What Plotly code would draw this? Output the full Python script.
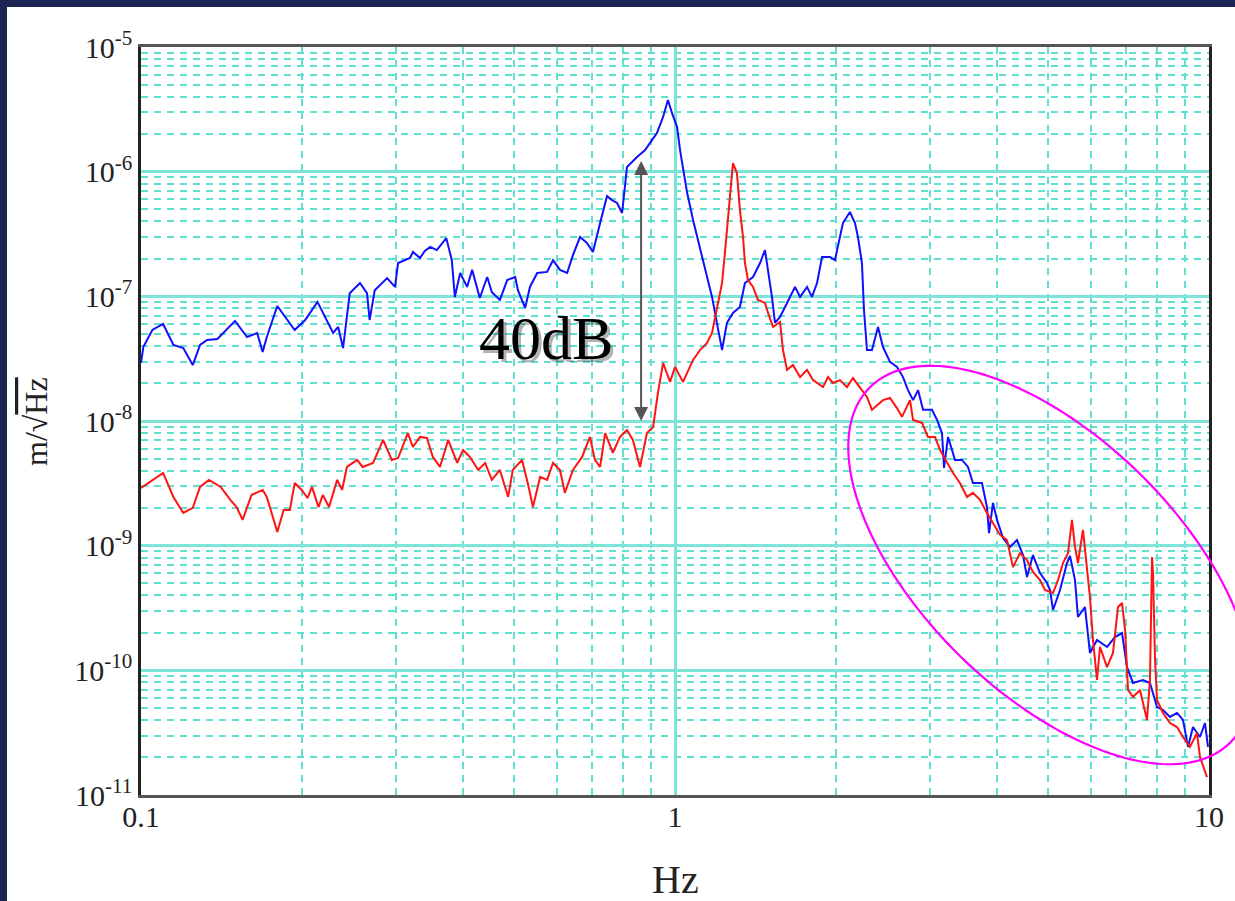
import math
import numpy as np
import plotly.graph_objects as go

# ---------------- data ----------------
blue_f = [0.100, 0.101, 0.105, 0.110, 0.115, 0.120, 0.125, 0.129, 0.133, 0.139,
          0.150, 0.158, 0.165, 0.169, 0.172, 0.180, 0.194, 0.203, 0.214, 0.229,
          0.234, 0.239, 0.246, 0.257, 0.265, 0.268, 0.274, 0.289, 0.299, 0.303,
          0.319, 0.323, 0.333, 0.340, 0.348, 0.358, 0.373, 0.382, 0.387, 0.396,
          0.408, 0.417, 0.431, 0.445, 0.454, 0.470, 0.485, 0.502, 0.508, 0.524,
          0.535, 0.552, 0.576, 0.591, 0.609, 0.628, 0.644, 0.664, 0.684, 0.702,
          0.724, 0.746, 0.762, 0.779, 0.796, 0.813, 0.849, 0.879, 0.898, 0.925,
          0.950, 0.970, 0.987, 1.009, 1.022, 1.053, 1.081, 1.128, 1.173, 1.198,
          1.225, 1.251, 1.284, 1.323, 1.352, 1.400, 1.443, 1.474, 1.494, 1.519,
          1.539, 1.573, 1.621, 1.678, 1.715, 1.767, 1.805, 1.845, 1.885, 1.951,
          1.993, 2.019, 2.063, 2.126, 2.173, 2.201, 2.239, 2.259, 2.288, 2.338,
          2.400, 2.452, 2.527, 2.604, 2.673, 2.731, 2.791, 2.852, 2.914, 3.029,
          3.095, 3.162, 3.190, 3.246, 3.345, 3.447, 3.537, 3.614, 3.757, 3.839,
          3.873, 3.940, 4.009, 4.114, 4.240, 4.370, 4.484, 4.562, 4.681, 4.825,
          4.973, 5.038, 5.104, 5.260, 5.421, 5.492, 5.611, 5.683, 5.858, 5.985,
          6.170, 6.442, 6.668, 6.873, 7.022, 7.205, 7.522, 7.753, 7.992, 8.202,
          8.453, 8.711, 8.939, 9.135, 9.333, 9.619, 9.829, 9.957]

blue_amp = [2.92e-8, 3.92e-8, 5.37e-8, 6.0e-8, 4.07e-8, 3.85e-8, 2.81e-8, 4.07e-8, 4.47e-8, 4.55e-8,
            6.35e-8, 4.72e-8, 5.08e-8, 3.58e-8, 4.72e-8, 8.37e-8, 5.37e-8, 6.46e-8, 9.02e-8, 5.08e-8,
            5.68e-8, 3.85e-8, 1.06e-7, 1.28e-7, 1.06e-7, 6.46e-8, 1.12e-7, 1.40e-7, 1.19e-7, 1.85e-7,
            2.03e-7, 2.27e-7, 2.03e-7, 2.31e-7, 2.49e-7, 2.35e-7, 2.93e-7, 1.95e-7, 9.89e-8, 1.54e-7,
            1.19e-7, 1.63e-7, 9.7e-8, 1.43e-7, 1.08e-7, 9.36e-8, 1.35e-7, 1.43e-7, 1.12e-7, 8.07e-8,
            1.19e-7, 1.54e-7, 1.57e-7, 1.95e-7, 1.63e-7, 1.54e-7, 2.14e-7, 2.99e-7, 2.68e-7, 2.27e-7,
            3.87e-7, 6.38e-7, 5.92e-7, 5.61e-7, 4.66e-7, 1.09e-6, 1.31e-6, 1.49e-6, 1.70e-6, 2.04e-6,
            2.75e-6, 3.76e-6, 2.96e-6, 2.28e-6, 1.49e-6, 6.87e-7, 4.09e-7, 1.95e-7, 9.89e-8, 6.12e-8,
            3.71e-8, 6.12e-8, 7.36e-8, 8.22e-8, 1.28e-7, 1.43e-7, 1.85e-7, 2.35e-7, 1.63e-7, 9.89e-8,
            6.12e-8, 6.83e-8, 8.85e-8, 1.19e-7, 9.89e-8, 1.19e-7, 9.89e-8, 1.28e-7, 2.07e-7, 2.07e-7,
            1.95e-7, 2.49e-7, 3.87e-7, 4.75e-7, 3.87e-7, 2.99e-7, 1.85e-7, 7.78e-8, 3.71e-8, 3.71e-8,
            5.68e-8, 3.92e-8, 2.98e-8, 2.71e-8, 2.25e-8, 1.77e-8, 1.47e-8, 1.77e-8, 1.23e-8, 1.23e-8,
            1.02e-8, 8.0e-9, 4.2e-9, 7.45e-9, 4.87e-9, 4.87e-9, 4.28e-9, 3.18e-9, 3.18e-9, 2.04e-9,
            1.26e-9, 2.20e-9, 1.61e-9, 1.15e-9, 9.76e-10, 1.11e-9, 8.4e-10, 5.61e-10, 8.4e-10, 6.03e-10,
            5.02e-10, 4.41e-10, 3.05e-10, 4.41e-10, 7.26e-10, 8.26e-10, 5.30e-10, 2.68e-10, 3.22e-10, 1.38e-10,
            1.75e-10, 1.54e-10, 1.85e-10, 1.99e-10, 1.06e-10, 7.92e-11, 8.37e-11, 7.92e-11, 5.08e-11, 4.81e-11,
            4.23e-11, 4.55e-11, 4.0e-11, 2.43e-11, 3.51e-11, 2.92e-11, 3.78e-11, 2.43e-11]

red_f = [0.100, 0.110, 0.115, 0.120, 0.125, 0.129, 0.134, 0.141, 0.147, 0.151,
         0.155, 0.161, 0.169, 0.172, 0.180, 0.185, 0.190, 0.194, 0.200, 0.205,
         0.209, 0.215, 0.219, 0.225, 0.233, 0.238, 0.243, 0.254, 0.260, 0.272,
         0.284, 0.295, 0.303, 0.316, 0.323, 0.333, 0.343, 0.352, 0.363, 0.376,
         0.391, 0.401, 0.413, 0.428, 0.441, 0.454, 0.470, 0.487, 0.497, 0.517,
         0.530, 0.542, 0.559, 0.576, 0.591, 0.609, 0.622, 0.644, 0.670, 0.693,
         0.708, 0.724, 0.740, 0.765, 0.789, 0.813, 0.834, 0.860, 0.886, 0.910,
         0.929, 0.950, 0.979, 1.000, 1.035, 1.081, 1.114, 1.148, 1.173, 1.198,
         1.225, 1.240, 1.257, 1.273, 1.284, 1.306, 1.323, 1.341, 1.352, 1.370,
         1.400, 1.430, 1.474, 1.494, 1.526, 1.573, 1.593, 1.621, 1.663, 1.715,
         1.767, 1.813, 1.893, 1.934, 1.976, 2.037, 2.099, 2.154, 2.220, 2.288,
         2.338, 2.389, 2.452, 2.527, 2.604, 2.661, 2.720, 2.755, 2.791, 2.901,
         2.977, 3.068, 3.135, 3.231, 3.316, 3.417, 3.522, 3.614, 3.725, 3.839,
         3.940, 4.062, 4.185, 4.295, 4.427, 4.562, 4.681, 4.825, 4.930, 5.104,
         5.215, 5.328, 5.445, 5.539, 5.611, 5.683, 5.808, 5.908, 5.985, 6.064,
         6.170, 6.250, 6.442, 6.610, 6.754, 6.873, 6.963, 7.053, 7.205, 7.427,
         7.654, 7.753, 7.822, 7.856, 7.924, 7.992, 8.202, 8.453, 8.711, 8.939,
         9.213, 9.495, 9.619, 9.914]

red_amp = [2.90e-9, 3.83e-9, 2.46e-9, 1.83e-9, 2.01e-9, 2.96e-9, 3.37e-9, 2.96e-9, 2.33e-9, 2.04e-9,
           1.61e-9, 2.55e-9, 2.80e-9, 2.46e-9, 1.29e-9, 1.93e-9, 1.93e-9, 3.18e-9, 2.80e-9, 2.41e-9,
           2.96e-9, 2.04e-9, 2.55e-9, 2.04e-9, 3.37e-9, 2.80e-9, 4.28e-9, 4.87e-9, 4.28e-9, 4.61e-9,
           7.05e-9, 4.87e-9, 5.05e-9, 8.0e-9, 6.19e-9, 7.45e-9, 7.31e-9, 5.15e-9, 4.28e-9, 7.05e-9,
           4.61e-9, 5.86e-9, 5.15e-9, 4.05e-9, 4.61e-9, 3.37e-9, 4.05e-9, 2.46e-9, 4.05e-9, 4.87e-9,
           3.18e-9, 2.04e-9, 3.56e-9, 3.37e-9, 4.61e-9, 4.05e-9, 2.65e-9, 4.05e-9, 5.15e-9, 7.45e-9,
           4.87e-9, 4.28e-9, 8.0e-9, 5.55e-9, 7.45e-9, 8.46e-9, 7.05e-9, 4.28e-9, 8.0e-9, 8.96e-9,
           1.68e-8, 2.92e-8, 2.06e-8, 2.71e-8, 2.06e-8, 3.09e-8, 3.71e-8, 4.23e-8, 5.08e-8, 8.22e-8,
           1.28e-7, 2.22e-7, 4.33e-7, 8.10e-7, 1.17e-6, 9.75e-7, 4.93e-7, 2.99e-7, 1.85e-7, 1.35e-7,
           1.19e-7, 9.36e-8, 8.85e-8, 7.36e-8, 5.68e-8, 6.23e-8, 3.71e-8, 2.57e-8, 2.81e-8, 2.25e-8,
           2.57e-8, 2.13e-8, 1.87e-8, 2.25e-8, 2.02e-8, 2.13e-8, 1.87e-8, 2.21e-8, 1.87e-8, 1.56e-8,
           1.23e-8, 1.34e-8, 1.47e-8, 1.53e-8, 1.27e-8, 1.08e-8, 1.30e-8, 1.47e-8, 1.02e-8, 9.65e-9,
           7.45e-9, 7.45e-9, 5.86e-9, 4.61e-9, 3.83e-9, 3.18e-9, 2.46e-9, 2.65e-9, 2.33e-9, 1.83e-9,
           1.52e-9, 1.22e-9, 1.11e-9, 6.73e-10, 8.72e-10, 7.67e-10, 6.15e-10, 5.30e-10, 4.41e-10, 4.17e-10,
           5.30e-10, 7.26e-10, 8.72e-10, 1.61e-9, 9.76e-10, 7.26e-10, 1.34e-9, 6.38e-10, 3.87e-10, 1.75e-10,
           8.37e-11, 1.54e-10, 1.06e-10, 1.38e-10, 3.22e-10, 3.47e-10, 2.11e-10, 6.96e-11, 6.12e-11, 6.96e-11,
           4.0e-11, 8.37e-11, 8.10e-10, 6.03e-10, 1.21e-10, 5.79e-11, 4.55e-11, 3.78e-11, 3.51e-11, 2.92e-11,
           2.43e-11, 3.14e-11, 2.02e-11, 1.39e-11]

x_tick_vals = [0.1, 1, 10]
x_tick_text = ["0.1", "1", "10"]
y_tick_vals = [1e-11, 1e-10, 1e-9, 1e-8, 1e-7, 1e-6, 1e-5]
y_tick_text = ["10<sup>-11</sup>", "10<sup>-10</sup>", "10<sup>-9</sup>", "10<sup>-8</sup>",
               "10<sup>-7</sup>", "10<sup>-6</sup>", "10<sup>-5</sup>"]

x_title = "Hz"
y_title = "m/√<span style='text-decoration:overline'>Hz</span>"
gap_label = "40dB"
# double arrow marking the 40 dB gap
arrow_f = 0.864
arrow_top = 1.25e-6
arrow_bottom = 1.0e-8

# ---------------- layout geometry ----------------
W, H = 1235, 901
L, R, T, B = 141, 26, 47, 106
PW, PH = W - L - R, H - T - B

def xp(px):
    return (px - L) / PW

def yp(py):
    return (H - B - py) / PH

NAVY = "#1b2553"
GRID_MAJOR = "#7de4d8"
GRID_MINOR = "#5fe0d0"
FONT = "Liberation Serif, Times New Roman, serif"

minor_x = [m * 0.1 for m in range(2, 10)] + [float(m) for m in range(2, 10)]
minor_y = [m * 10.0 ** e for e in range(-11, -5) for m in range(2, 10)]

fig = go.Figure()
fig.add_trace(go.Scatter(x=blue_f, y=blue_amp, mode="lines",
                         line=dict(color="#1010ff", width=2), hoverinfo="skip"))
fig.add_trace(go.Scatter(x=red_f, y=red_amp, mode="lines",
                         line=dict(color="#ff1414", width=2), hoverinfo="skip"))

axis_common = dict(
    type="log", ticks="", showline=True, mirror=True, zeroline=False,
    showgrid=True, gridcolor=GRID_MAJOR, gridwidth=2.5,
    tickfont=dict(family=FONT, size=30, color="#222"),
)

fig.update_xaxes(
    **axis_common, range=[-1, 1], tickvals=x_tick_vals, ticktext=x_tick_text,
    linecolor="#555", linewidth=3, ticklabelstandoff=-7,
    minor=dict(tickvals=minor_x, showgrid=True, gridcolor=GRID_MINOR,
               gridwidth=2, griddash="7px,6px", ticks=""),
)
fig.update_yaxes(
    **axis_common, range=[-11, -5], tickvals=y_tick_vals, ticktext=y_tick_text,
    linecolor="#222", linewidth=2.5, ticklabelstandoff=0,
    minor=dict(tickvals=minor_y, showgrid=True, gridcolor=GRID_MINOR,
               gridwidth=2, griddash="7px,6px", ticks=""),
)

# white page on navy frame
shapes = [dict(type="rect", xref="paper", yref="paper", layer="below",
               x0=xp(7), x1=xp(W + 5), y0=yp(H + 5), y1=yp(7),
               fillcolor="white", line=dict(width=0))]

# magenta ellipse highlighting the high-frequency region
cx, cy, a_ax, b_ax, ang = 1050, 565, 253, 128, math.radians(44.4)
t = np.linspace(0, 2 * np.pi, 181)
ex = cx + a_ax * np.cos(ang) * np.cos(t) - b_ax * np.sin(ang) * np.sin(t)
ey = cy + a_ax * np.sin(ang) * np.cos(t) + b_ax * np.cos(ang) * np.sin(t)
path = "M " + " L ".join(f"{xp(x):.5f},{yp(y):.5f}" for x, y in zip(ex, ey)) + " Z"
shapes.append(dict(type="path", xref="paper", yref="paper", path=path,
                   line=dict(color="#ff00ff", width=2.2)))

annotations = [
    dict(xref="x", yref="y", axref="x", ayref="y",
         x=math.log10(arrow_f), y=math.log10(arrow_bottom),
         ax=math.log10(arrow_f), ay=math.log10(arrow_top),
         text="", showarrow=True, arrowhead=2, arrowside="end+start",
         arrowsize=1.4, arrowwidth=2, arrowcolor="#555"),
    dict(xref="paper", yref="paper", x=xp(546), y=yp(338), text=gap_label,
         showarrow=False, xshift=3, yshift=-3, xanchor="center", yanchor="middle",
         font=dict(family=FONT, size=62, color="rgba(0,0,0,0.3)")),
    dict(xref="paper", yref="paper", x=xp(546), y=yp(338), text=gap_label,
         showarrow=False, xanchor="center", yanchor="middle",
         font=dict(family=FONT, size=62, color="#000")),
    dict(xref="paper", yref="paper", x=xp(675), y=yp(880), text=x_title,
         showarrow=False, xanchor="center", yanchor="middle",
         font=dict(family=FONT, size=40, color="#222")),
    dict(xref="paper", yref="paper", x=xp(36), y=yp(422), text=y_title,
         showarrow=False, textangle=-90, xanchor="center", yanchor="middle",
         font=dict(family=FONT, size=32, color="#222")),
]

fig.update_layout(
    width=W, height=H, margin=dict(l=L, r=R, t=T, b=B, pad=0),
    paper_bgcolor=NAVY, plot_bgcolor="white", showlegend=False,
    font=dict(family=FONT, color="#222"),
    shapes=shapes, annotations=annotations,
)

fig.write_html("out.html")
